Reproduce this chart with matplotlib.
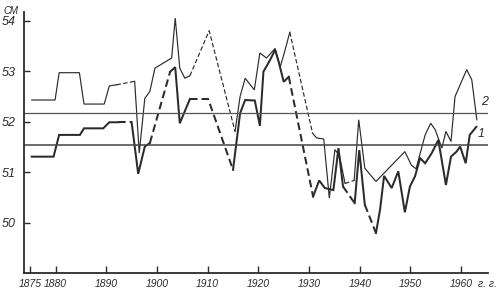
import matplotlib
matplotlib.use("Agg")
import matplotlib.pyplot as plt

# Series 2 (upper, thin line)
years2 = [1875.3, 1879.9, 1880.7, 1884.7, 1885.6, 1889.6, 1890.6, 1892.0, 1895.6, 1896.5,
          1897.6, 1898.6, 1899.6, 1902.9, 1903.6, 1904.5, 1905.5, 1906.5, 1910.3, 1915.4,
          1916.4, 1917.4, 1919.2, 1920.3, 1921.6, 1923.3, 1924.3, 1925.2, 1926.2, 1930.7,
          1931.5, 1932.9, 1934.0, 1935.1, 1936.0, 1937.1, 1938.9, 1939.8, 1941.0, 1943.2,
          1948.9, 1950.2, 1951.1, 1952.9, 1954.0, 1954.9, 1956.2, 1957.0, 1958.0, 1958.8,
          1961.1, 1962.1, 1963.1]
vals2 = [52.43, 52.43, 52.97, 52.97, 52.35, 52.35, 52.71, 52.73, 52.80, 51.38,
         52.46, 52.60, 53.06, 53.26, 54.05, 53.06, 52.86, 52.91, 53.80, 51.81,
         52.50, 52.86, 52.63, 53.36, 53.26, 53.45, 53.08, 53.39, 53.77, 51.77,
         51.68, 51.66, 50.49, 51.45, 51.33, 50.78, 50.84, 52.04, 51.08, 50.82,
         51.41, 51.14, 51.07, 51.74, 51.97, 51.84, 51.48, 51.81, 51.61, 52.50,
         53.03, 52.83, 52.04]
# start years of the segments drawn dashed (gaps in the record)
dashed2 = [1892.0, 1906.5, 1910.3, 1926.2, 1937.1]

# Series 1 (lower, thick line)
years1 = [1875.3, 1879.6, 1880.7, 1884.8, 1885.6, 1889.4, 1890.6, 1892.4, 1895.0, 1896.3,
          1897.6, 1898.6, 1902.6, 1903.6, 1904.5, 1906.5, 1910.1, 1915.0, 1916.4, 1917.4,
          1919.3, 1920.3, 1921.0, 1922.3, 1923.3, 1924.0, 1925.0, 1926.0, 1930.8, 1932.0,
          1933.1, 1934.8, 1935.8, 1936.7, 1939.0, 1939.9, 1941.0, 1943.2, 1944.0, 1944.8,
          1946.3, 1947.6, 1948.9, 1949.9, 1950.9, 1951.9, 1952.9, 1954.2, 1955.5, 1957.0,
          1958.0, 1959.1, 1959.8, 1960.9, 1961.7, 1963.0]
vals1 = [51.31, 51.31, 51.74, 51.74, 51.87, 51.87, 51.99, 51.99, 51.99, 50.97,
         51.51, 51.58, 52.99, 53.08, 51.97, 52.45, 52.45, 51.05, 52.17, 52.43,
         52.42, 51.92, 52.99, 53.22, 53.42, 53.19, 52.79, 52.89, 50.52, 50.84,
         50.69, 50.65, 51.48, 50.72, 50.39, 51.44, 50.36, 49.80, 50.26, 50.93,
         50.69, 51.02, 50.21, 50.72, 50.92, 51.28, 51.18, 51.38, 51.64, 50.75,
         51.31, 51.41, 51.51, 51.18, 51.74, 51.90]
dashed1 = [1892.4, 1898.6, 1906.5, 1910.1, 1926.0, 1936.7, 1941.0]

# Mean levels
mean2 = 52.18
mean1 = 51.55

xticks = [1875, 1880, 1890, 1900, 1910, 1920, 1930, 1940, 1950, 1960]
yticks = [50, 51, 52, 53, 54]

INK = "#2b2b2b"
FONT = "Liberation Sans"

fig = plt.figure(figsize=(5.0, 2.96), dpi=100)
ax = fig.add_axes([24 / 500, 23 / 296, 464 / 500, 261 / 296])
ax.set_xlim(1873.77, 1965.3)
ax.set_ylim(49.01, 54.17)


def draw(years, vals, dashed, lw):
    n = len(years)
    styles = ["d" if years[i] in dashed else "s" for i in range(n - 1)]
    i = 0
    while i < n - 1:
        j = i
        while j + 1 < n - 1 and styles[j + 1] == styles[i]:
            j += 1
        xs = years[i:j + 2]
        ys = vals[i:j + 2]
        if styles[i] == "d":
            ax.plot(xs, ys, color=INK, lw=lw, dashes=(3.8, 2.0),
                    solid_joinstyle="miter", dash_capstyle="butt")
        else:
            ax.plot(xs, ys, color=INK, lw=lw, solid_joinstyle="miter")
        i = j + 1


draw(years2, vals2, dashed2, 0.85)
draw(years1, vals1, dashed1, 1.45)

ax.axhline(mean2, color="#555555", lw=0.9)
ax.axhline(mean1, color="#444444", lw=1.1)

for s in ["top", "right"]:
    ax.spines[s].set_visible(False)
for s in ["left", "bottom"]:
    ax.spines[s].set_linewidth(1.3)
    ax.spines[s].set_color(INK)

ax.set_xticks(xticks)
ax.set_xticklabels([str(t) for t in xticks], fontstyle="italic",
                   fontfamily=FONT, fontsize=7.5, color=INK)
ax.set_yticks(yticks)
ax.set_yticklabels([str(t) for t in yticks], fontstyle="italic",
                   fontfamily=FONT, fontsize=9, color=INK)
ax.tick_params(axis="x", direction="in", length=5, width=1.0, pad=4, colors=INK)
ax.tick_params(axis="y", direction="in", length=4, width=1.0, pad=6, colors=INK)

ax.annotate("г. г.", xy=(1963.4, 0), xycoords=("data", "axes fraction"),
            xytext=(0, -4), textcoords="offset points", fontstyle="italic",
            fontfamily=FONT, fontsize=7.5, color=INK, va="top", ha="left",
            annotation_clip=False)
fig.text(11 / 500, 1 - 10.5 / 296, "СМ", fontstyle="italic", fontfamily=FONT,
         fontsize=7, color=INK, ha="center", va="center")
ax.text(1964.0, 52.40, "2", fontstyle="italic", fontfamily=FONT,
        fontsize=9, color=INK, ha="left", va="center", clip_on=False)
ax.text(1963.3, 51.75, "1", fontstyle="italic", fontfamily=FONT,
        fontsize=9, color=INK, ha="left", va="center", clip_on=False)

fig.savefig("out.png", dpi=100, facecolor="white")
